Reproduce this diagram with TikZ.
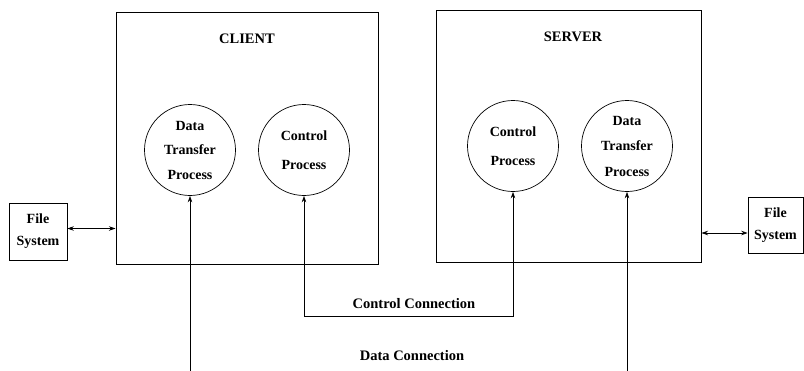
\documentclass[tikz,border=0pt]{standalone}
\usepackage{fontspec}
\setmainfont{Liberation Serif}
\usetikzlibrary{arrows.meta}
\begin{document}
\begin{tikzpicture}[x=1pt,y=-1pt,
  host/.style={draw,line width=1pt,rectangle,inner sep=0pt},
  proc/.style={draw,circle,line width=0.7pt,minimum size=91pt,inner sep=0pt,align=center},
  fsbox/.style={draw,line width=0.7pt,rectangle,inner sep=0pt,align=center,font=\bfseries\fontsize{14}{22}\selectfont},
  conn/.style={line width=0.7pt},
  tips/.style={{Stealth[length=6.5pt,width=4.5pt]}-{Stealth[length=6.5pt,width=4.5pt]}},
  lbl/.style={font=\bfseries\fontsize{14.5}{16}\selectfont},
  hostlbl/.style={font=\bfseries\fontsize{14.5}{16}\selectfont}]
\useasboundingbox (0,0) rectangle (804,370);
% host boxes
\node[host,minimum width=262pt,minimum height=252pt] (client) at (247,138) {};
\node[host,minimum width=265pt,minimum height=252pt] (server) at (568.5,136) {};
\node[hostlbl] (clientlbl) at (247,39) {CLIENT};
\node[hostlbl] (serverlbl) at (573,37) {SERVER};
% processes
\node[proc,font=\bfseries\fontsize{14}{24.5}\selectfont] (cdtp) at (190,150) {Data\\Transfer\\Process};
\node[proc,font=\bfseries\fontsize{14}{29}\selectfont] (ccp) at (304,150) {Control\\Process};
\node[proc,font=\bfseries\fontsize{14}{29}\selectfont] (scp) at (513,146) {Control\\Process};
\node[proc,font=\bfseries\fontsize{14}{25.5}\selectfont] (sdtp) at (627,146) {Data\\Transfer\\Process};
% file systems
\node[fsbox,minimum width=58pt,minimum height=57pt] (fsl) at (38,231.5) {File\\System};
\node[fsbox,minimum width=55pt,minimum height=56pt] (fsr) at (775.5,225) {File\\System};
% file system links
\draw[conn,tips] ([yshift=3pt]fsl.east) -- ([yshift=3pt]fsl.east -| client.west);
\draw[conn,tips] ([yshift=-8pt]fsr.west -| server.east) -- ([yshift=-8pt]fsr.west);
% connections
\coordinate (cbus) at (0,316);
\coordinate (dbus) at (0,373);
\draw[conn,tips] (ccp.south) -- (ccp.south |- cbus) -| (scp.south);
\draw[conn,tips] (cdtp.south) -- (cdtp.south |- dbus) -| (sdtp.south);
\node[lbl] (cclbl) at (414,304) {Control Connection};
\node[lbl] (dclbl) at (412,356) {Data Connection};
\end{tikzpicture}
\end{document}
